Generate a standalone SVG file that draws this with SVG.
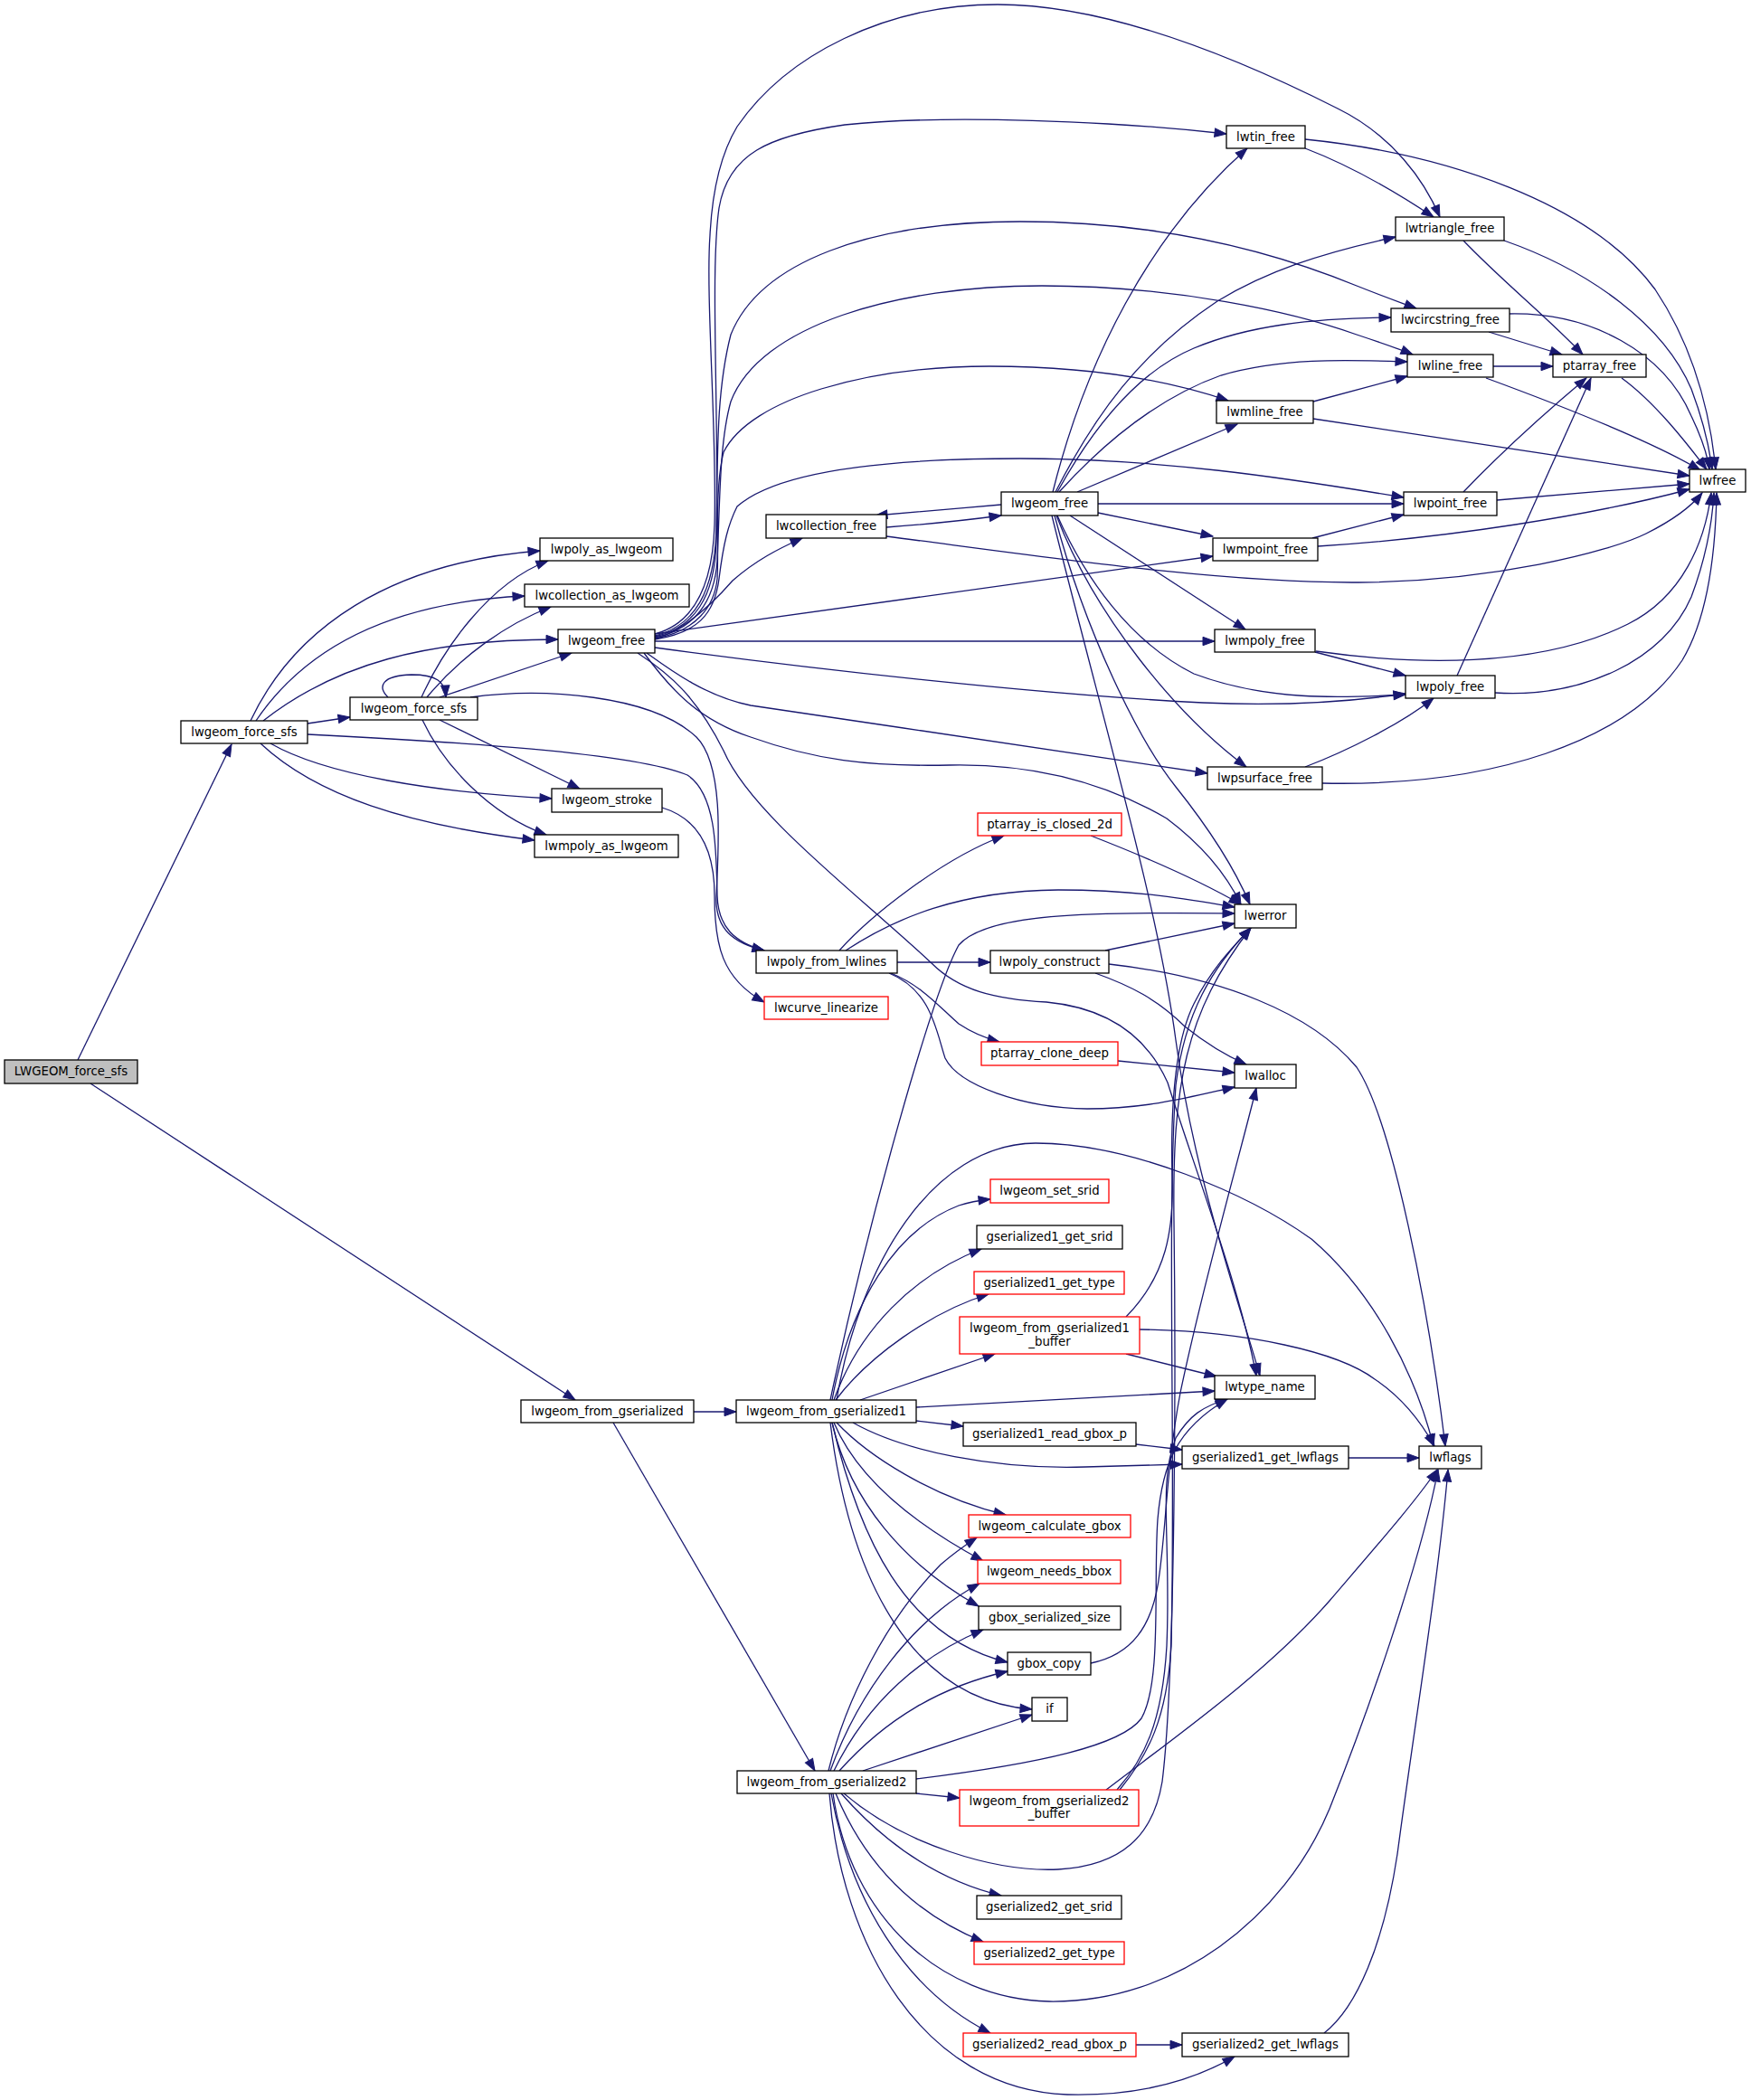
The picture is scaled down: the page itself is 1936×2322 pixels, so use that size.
<svg xmlns="http://www.w3.org/2000/svg" width="1936" height="2322" viewBox="0 0 1936 2322">
<style>
.n rect{fill:#ffffff;stroke:#000000;stroke-width:1.3}
.r rect{fill:#ffffff;stroke:#ff0000;stroke-width:1.3}
.m rect{fill:#bfbfbf;stroke:#000000;stroke-width:1.3}
text{font-family:"DejaVu Sans","Liberation Sans",sans-serif;font-size:13.3px;fill:#000000;text-anchor:middle}
#edges path{fill:none;stroke:#191970;stroke-width:1.3;marker-end:url(#a)}
</style>
<defs>
<marker id="a" markerUnits="userSpaceOnUse" markerWidth="14" markerHeight="10" refX="13" refY="5" orient="auto" overflow="visible">
<path d="M0,0.3 L13,5 L0,9.7 Z" fill="#191970" stroke="#191970" stroke-width="1"/>
</marker>
</defs>
<rect width="1936" height="2322" fill="#ffffff"/>
<g id="edges">
<path d="M86,1172 L256,823"/>
<path d="M100,1198 L636,1548"/>
<path d="M277,797 C325,695 430,622 597,609"/>
<path d="M283,797 C345,705 450,665 580,659"/>
<path d="M291,797 C370,735 470,707 617,707"/>
<path d="M340,800 L387,793"/>
<path d="M340,812 C500,820 700,832 760,857 C792,878 792,940 793,990 C794,1025 812,1042 845,1051"/>
<path d="M520,771 C600,760 720,768 770,815 C800,845 795,930 792,990 C790,1028 812,1043 845,1051"/>
<path d="M299,822 C360,857 480,876 610,883"/>
<path d="M288,822 C350,880 450,912 591,929"/>
<path d="M429,771 C417,759 422,747 455,746 C482,746 492,753 493,771"/>
<path d="M466,771 C490,718 540,645 606,620"/>
<path d="M472,771 C510,725 560,690 609,671"/>
<path d="M486,771 L632,722"/>
<path d="M486,796 L641,872"/>
<path d="M467,796 C490,845 540,900 604,923"/>
<path d="M732,893 C772,905 790,940 790,990 C790,1045 798,1082 845,1108"/>
<path d="M724,701 C765,690 788,650 790,580 C793,480 780,330 785,260 C788,200 800,165 815,140 C870,60 980,5 1103,5 C1230,5 1380,70 1479,120 C1540,150 1575,200 1592,240"/>
<path d="M724,703 C768,692 790,655 792,585 C795,450 785,300 795,230 C805,170 850,150 934,138 C1000,131 1100,130 1225,137 C1280,140 1320,144 1356,148"/>
<path d="M724,704 C768,694 790,660 792,600 C794,520 790,440 808,370 C840,290 960,245 1128,245 C1280,245 1400,275 1500,316 C1530,328 1550,335 1566,341"/>
<path d="M724,705 C768,696 790,665 793,620 C796,560 795,490 808,444 C840,360 990,316 1152,316 C1300,316 1430,345 1500,370 C1530,380 1548,386 1562,392"/>
<path d="M724,706 C770,698 790,670 793,640 C795,600 790,540 800,500 C830,440 960,405 1094,405 C1200,405 1290,420 1358,443"/>
<path d="M724,707 C770,700 790,680 795,640 C800,600 805,580 815,560 C860,520 980,507 1128,507 C1280,507 1420,528 1552,550"/>
<path d="M724,707 C760,695 790,665 810,642 C835,620 860,607 887,595"/>
<path d="M724,701 L1341,615"/>
<path d="M724,709 L1343,709"/>
<path d="M724,716 C900,740 1150,768 1330,777 C1420,781 1500,775 1554,767"/>
<path d="M715,722 C740,740 780,770 830,780 C1000,805 1200,835 1335,855"/>
<path d="M712,722 C740,760 770,795 830,815 C900,840 960,848 1050,846 C1150,844 1230,870 1290,905 C1330,935 1355,965 1372,1000"/>
<path d="M705,722 C740,745 770,770 800,830 C830,900 950,990 1030,1065 C1060,1095 1100,1105 1157,1108 C1230,1115 1270,1150 1291,1197 C1320,1290 1370,1420 1389,1521"/>
<path d="M980,583 C1020,580 1070,575 1107,570"/>
<path d="M1107,558 C1060,562 1010,566 968,570"/>
<path d="M980,593 C1150,615 1350,645 1502,644 C1650,643 1780,610 1820,590 C1850,575 1870,560 1882,545"/>
<path d="M1164,544 C1200,400 1270,260 1379,164"/>
<path d="M1167,544 C1210,460 1260,390 1346,333 C1400,300 1460,280 1543,262"/>
<path d="M1169,544 C1210,470 1260,410 1320,385 C1380,360 1450,352 1538,351"/>
<path d="M1171,544 C1220,490 1280,440 1350,415 C1420,395 1490,398 1556,400"/>
<path d="M1452,444 L1556,416"/>
<path d="M1191,544 L1368,469"/>
<path d="M1214,557 L1552,557"/>
<path d="M1214,567 L1341,593"/>
<path d="M1183,570 L1377,696"/>
<path d="M1169,570 C1200,640 1250,710 1320,745 C1400,775 1480,772 1554,768"/>
<path d="M1168,570 C1210,680 1300,790 1378,848"/>
<path d="M1166,570 C1200,700 1260,820 1300,870 C1340,920 1365,960 1382,1000"/>
<path d="M1163,570 C1220,800 1280,1000 1300,1150 C1320,1300 1370,1440 1393,1521"/>
<path d="M1443,164 C1490,182 1540,210 1585,240"/>
<path d="M1443,154 C1600,170 1760,225 1830,320 C1870,380 1890,450 1897,519"/>
<path d="M1618,266 C1660,310 1710,350 1750,392"/>
<path d="M1663,266 C1760,300 1840,360 1870,430 C1885,470 1890,495 1893,519"/>
<path d="M1646,367 L1727,392"/>
<path d="M1668,347 C1760,345 1840,390 1870,460 C1882,485 1888,505 1890,519"/>
<path d="M1651,405 L1717,405"/>
<path d="M1643,418 C1730,450 1830,490 1880,520"/>
<path d="M1793,418 C1830,445 1865,490 1887,519"/>
<path d="M1452,463 L1868,526"/>
<path d="M1618,544 C1660,500 1710,455 1754,418"/>
<path d="M1655,553 L1868,535"/>
<path d="M1451,595 L1552,569"/>
<path d="M1457,604 C1600,595 1760,570 1868,541"/>
<path d="M1454,721 L1554,747"/>
<path d="M1455,720 C1560,735 1700,740 1800,690 C1860,660 1885,600 1892,545"/>
<path d="M1611,747 L1759,418"/>
<path d="M1653,766 C1750,772 1840,730 1870,660 C1885,620 1893,580 1895,545"/>
<path d="M1443,848 C1490,830 1550,800 1585,772"/>
<path d="M1462,866 C1650,870 1800,820 1860,730 C1890,680 1897,600 1898,545"/>
<path d="M928,1051 C960,1015 1040,950 1110,924"/>
<path d="M935,1051 C990,1015 1060,985 1170,984 C1260,984 1320,995 1365,1003"/>
<path d="M992,1064 L1095,1064"/>
<path d="M985,1076 C1020,1090 1040,1115 1060,1132 C1075,1142 1090,1148 1105,1152"/>
<path d="M983,1076 C1030,1095 1035,1140 1045,1170 C1060,1200 1130,1225 1202,1226 C1270,1226 1320,1212 1365,1202"/>
<path d="M1206,924 C1260,945 1320,970 1372,1000"/>
<path d="M1222,1051 L1365,1021"/>
<path d="M1211,1076 C1250,1090 1280,1105 1310,1135 C1335,1155 1355,1167 1378,1177"/>
<path d="M1226,1066 C1350,1080 1450,1120 1500,1180 C1540,1240 1580,1450 1598,1599"/>
<path d="M1236,1173 L1365,1186"/>
<path d="M767,1561 L814,1561"/>
<path d="M678,1573 L901,1958"/>
<path d="M918,1548 C960,1350 1030,1100 1060,1045 C1090,1010 1200,1008 1365,1010"/>
<path d="M925,1548 C950,1400 1030,1265 1145,1264 C1250,1264 1380,1320 1450,1370 C1520,1430 1565,1520 1585,1599"/>
<path d="M920,1548 C940,1440 990,1360 1060,1333 C1075,1328 1085,1327 1095,1326"/>
<path d="M922,1548 C950,1470 1010,1410 1085,1381"/>
<path d="M924,1548 C960,1500 1030,1450 1093,1431"/>
<path d="M951,1548 L1100,1497"/>
<path d="M1013,1556 L1343,1538"/>
<path d="M1013,1571 L1065,1577"/>
<path d="M943,1573 C1000,1605 1100,1625 1200,1622 C1240,1621 1280,1620 1307,1619"/>
<path d="M925,1573 C960,1610 1030,1655 1112,1675"/>
<path d="M922,1573 C950,1640 1020,1690 1087,1726"/>
<path d="M920,1573 C940,1660 1000,1730 1082,1776"/>
<path d="M920,1573 C950,1700 1000,1810 1114,1838"/>
<path d="M918,1573 C940,1750 1010,1880 1141,1890"/>
<path d="M1245,1456 C1290,1410 1298,1360 1296,1300 C1294,1220 1300,1150 1320,1110 C1340,1070 1365,1045 1383,1026"/>
<path d="M1245,1497 L1345,1522"/>
<path d="M1260,1470 C1380,1472 1480,1495 1520,1525 C1550,1545 1570,1570 1586,1599"/>
<path d="M1256,1597 L1307,1603"/>
<path d="M1491,1612 L1569,1612"/>
<path d="M1206,1839 C1250,1830 1275,1800 1282,1740 C1290,1680 1290,1620 1305,1540 C1330,1420 1370,1280 1389,1203"/>
<path d="M1013,1967 C1150,1950 1240,1930 1262,1900 C1285,1860 1275,1750 1280,1680 C1285,1620 1300,1580 1357,1547"/>
<path d="M933,1983 C1000,2040 1100,2070 1170,2067 C1240,2063 1275,2030 1285,1970 C1300,1850 1300,1500 1298,1350 C1296,1200 1310,1120 1383,1026"/>
<path d="M1238,1979 C1270,1940 1290,1900 1295,1820 C1300,1600 1290,1350 1300,1200 C1310,1120 1340,1070 1383,1026"/>
<path d="M1235,1979 C1265,1945 1285,1905 1290,1820 C1295,1700 1280,1640 1300,1590 C1315,1565 1330,1555 1357,1547"/>
<path d="M1223,1979 C1300,1920 1400,1850 1470,1770 C1530,1700 1565,1660 1589,1625"/>
<path d="M921,1983 C940,2120 1040,2210 1160,2213 C1300,2215 1420,2120 1470,2000 C1510,1900 1570,1730 1590,1625"/>
<path d="M917,1983 C930,2150 1020,2310 1180,2316 C1260,2318 1320,2300 1365,2274"/>
<path d="M919,1983 C940,2100 1000,2200 1095,2248"/>
<path d="M924,1983 C960,2070 1020,2120 1087,2147"/>
<path d="M930,1983 C980,2040 1040,2080 1107,2096"/>
<path d="M1013,1983 L1061,1988"/>
<path d="M1256,2261 L1307,2261"/>
<path d="M1464,2248 C1500,2220 1530,2150 1545,2050 C1565,1900 1590,1750 1601,1625"/>
<path d="M916,1958 C935,1880 980,1790 1040,1730 C1055,1717 1068,1708 1080,1700"/>
<path d="M918,1958 C950,1870 1010,1790 1083,1751"/>
<path d="M922,1958 C960,1880 1020,1830 1087,1802"/>
<path d="M928,1958 C980,1900 1040,1865 1114,1848"/>
<path d="M954,1958 L1141,1896"/>
</g>
<g id="N0" class="m"><rect x="5" y="1172" width="147" height="26"/><text x="78.5" y="1189">LWGEOM_force_sfs</text></g>
<g id="N1" class="n"><rect x="200" y="797" width="140" height="25"/><text x="270" y="813.5">lwgeom_force_sfs</text></g>
<g id="N2" class="n"><rect x="387" y="771" width="141" height="25"/><text x="457.5" y="787.5">lwgeom_force_sfs</text></g>
<g id="N3" class="n"><rect x="597" y="595" width="147" height="25"/><text x="670.5" y="611.5">lwpoly_as_lwgeom</text></g>
<g id="N4" class="n"><rect x="580" y="646" width="182" height="25"/><text x="671" y="662.5">lwcollection_as_lwgeom</text></g>
<g id="N5" class="n"><rect x="617" y="696" width="107" height="26"/><text x="670.5" y="713">lwgeom_free</text></g>
<g id="N6" class="n"><rect x="610" y="872" width="122" height="26"/><text x="671" y="889">lwgeom_stroke</text></g>
<g id="N7" class="n"><rect x="591" y="923" width="159" height="25"/><text x="670.5" y="939.5">lwmpoly_as_lwgeom</text></g>
<g id="N8" class="n"><rect x="836" y="1051" width="156" height="25"/><text x="914" y="1067.5">lwpoly_from_lwlines</text></g>
<g id="N9" class="r"><rect x="845" y="1102" width="137" height="25"/><text x="913.5" y="1118.5">lwcurve_linearize</text></g>
<g id="N10" class="n"><rect x="847" y="569" width="133" height="26"/><text x="913.5" y="586">lwcollection_free</text></g>
<g id="N11" class="n"><rect x="1107" y="544" width="107" height="26"/><text x="1160.5" y="561">lwgeom_free</text></g>
<g id="N12" class="n"><rect x="1356" y="139" width="87" height="25"/><text x="1399.5" y="155.5">lwtin_free</text></g>
<g id="N13" class="n"><rect x="1543" y="240" width="120" height="26"/><text x="1603" y="257">lwtriangle_free</text></g>
<g id="N14" class="n"><rect x="1538" y="341" width="131" height="26"/><text x="1603.5" y="358">lwcircstring_free</text></g>
<g id="N15" class="n"><rect x="1556" y="392" width="95" height="25"/><text x="1603.5" y="408.5">lwline_free</text></g>
<g id="N16" class="n"><rect x="1717" y="392" width="103" height="25"/><text x="1768.5" y="408.5">ptarray_free</text></g>
<g id="N17" class="n"><rect x="1345" y="443" width="107" height="25"/><text x="1398.5" y="459.5">lwmline_free</text></g>
<g id="N18" class="n"><rect x="1868" y="519" width="62" height="25"/><text x="1899" y="535.5">lwfree</text></g>
<g id="N19" class="n"><rect x="1552" y="544" width="103" height="26"/><text x="1603.5" y="561">lwpoint_free</text></g>
<g id="N20" class="n"><rect x="1341" y="595" width="116" height="25"/><text x="1399" y="611.5">lwmpoint_free</text></g>
<g id="N21" class="n"><rect x="1343" y="696" width="111" height="25"/><text x="1398.5" y="712.5">lwmpoly_free</text></g>
<g id="N22" class="n"><rect x="1554" y="747" width="99" height="25"/><text x="1603.5" y="763.5">lwpoly_free</text></g>
<g id="N23" class="n"><rect x="1335" y="848" width="127" height="25"/><text x="1398.5" y="864.5">lwpsurface_free</text></g>
<g id="N24" class="r"><rect x="1081" y="899" width="159" height="25"/><text x="1160.5" y="915.5">ptarray_is_closed_2d</text></g>
<g id="N25" class="n"><rect x="1365" y="1000" width="68" height="26"/><text x="1399" y="1017">lwerror</text></g>
<g id="N26" class="n"><rect x="1095" y="1051" width="131" height="25"/><text x="1160.5" y="1067.5">lwpoly_construct</text></g>
<g id="N27" class="r"><rect x="1085" y="1152" width="151" height="26"/><text x="1160.5" y="1169">ptarray_clone_deep</text></g>
<g id="N28" class="n"><rect x="1365" y="1177" width="68" height="26"/><text x="1399" y="1194">lwalloc</text></g>
<g id="N29" class="r"><rect x="1095" y="1304" width="131" height="26"/><text x="1160.5" y="1321">lwgeom_set_srid</text></g>
<g id="N30" class="n"><rect x="1080" y="1355" width="161" height="26"/><text x="1160.5" y="1372">gserialized1_get_srid</text></g>
<g id="N31" class="r"><rect x="1077" y="1406" width="166" height="25"/><text x="1160" y="1422.5">gserialized1_get_type</text></g>
<g id="N32" class="r"><rect x="1061" y="1456" width="199" height="41"/><text x="1160.5" y="1473">lwgeom_from_gserialized1</text><text x="1160.5" y="1487.5">_buffer</text></g>
<g id="N33" class="n"><rect x="1343" y="1521" width="111" height="26"/><text x="1398.5" y="1538">lwtype_name</text></g>
<g id="N34" class="n"><rect x="1065" y="1573" width="191" height="26"/><text x="1160.5" y="1590">gserialized1_read_gbox_p</text></g>
<g id="N35" class="n"><rect x="1307" y="1599" width="184" height="25"/><text x="1399" y="1615.5">gserialized1_get_lwflags</text></g>
<g id="N36" class="n"><rect x="1569" y="1599" width="69" height="25"/><text x="1603.5" y="1615.5">lwflags</text></g>
<g id="N37" class="n"><rect x="576" y="1548" width="191" height="25"/><text x="671.5" y="1564.5">lwgeom_from_gserialized</text></g>
<g id="N38" class="n"><rect x="814" y="1548" width="199" height="25"/><text x="913.5" y="1564.5">lwgeom_from_gserialized1</text></g>
<g id="N39" class="r"><rect x="1071" y="1675" width="179" height="25"/><text x="1160.5" y="1691.5">lwgeom_calculate_gbox</text></g>
<g id="N40" class="r"><rect x="1081" y="1725" width="158" height="26"/><text x="1160" y="1742">lwgeom_needs_bbox</text></g>
<g id="N41" class="n"><rect x="1082" y="1776" width="157" height="26"/><text x="1160.5" y="1793">gbox_serialized_size</text></g>
<g id="N42" class="n"><rect x="1114" y="1827" width="92" height="25"/><text x="1160" y="1843.5">gbox_copy</text></g>
<g id="N43" class="n"><rect x="1141" y="1877" width="39" height="26"/><text x="1160.5" y="1894">if</text></g>
<g id="N44" class="n"><rect x="815" y="1958" width="198" height="25"/><text x="914" y="1974.5">lwgeom_from_gserialized2</text></g>
<g id="N45" class="r"><rect x="1061" y="1979" width="198" height="40"/><text x="1160" y="1995.5">lwgeom_from_gserialized2</text><text x="1160" y="2010">_buffer</text></g>
<g id="N46" class="n"><rect x="1080" y="2096" width="160" height="26"/><text x="1160" y="2113">gserialized2_get_srid</text></g>
<g id="N47" class="r"><rect x="1077" y="2147" width="166" height="25"/><text x="1160" y="2163.5">gserialized2_get_type</text></g>
<g id="N48" class="r"><rect x="1065" y="2248" width="191" height="26"/><text x="1160.5" y="2265">gserialized2_read_gbox_p</text></g>
<g id="N49" class="n"><rect x="1307" y="2248" width="184" height="26"/><text x="1399" y="2265">gserialized2_get_lwflags</text></g>
</svg>
